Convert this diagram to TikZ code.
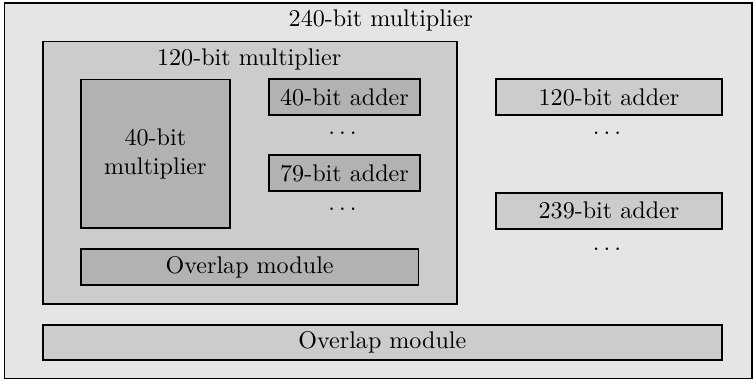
\documentclass[tikz,border=0pt]{standalone}
\begin{document}
\begin{tikzpicture}[x=0.415pt,y=-0.415pt,
  box/.style={draw=black,line width=0.75pt,inner sep=0pt,outer sep=0pt,align=center},
  lvA/.style={box,fill=black!10},
  lvB/.style={box,fill=black!20},
  lvC/.style={box,fill=black!30},
  lbl/.style={inner sep=0pt,anchor=base},
  dotsnode/.style={inner sep=0pt,anchor=base}]
\useasboundingbox (0,0) rectangle (754,381);
% outer 240-bit multiplier
\node[lvA,minimum width=310.2pt,minimum height=155.7pt] (outer) at (378.25,190.9) {};
\node[lbl] (outerlbl) at (380.8,26.7) {240-bit multiplier};
% 120-bit multiplier
\node[lvB,minimum width=171.8pt,minimum height=108.9pt] (inner) at (250,172.75) {};
\node[lbl] (innerlbl) at (249.2,65.3) {120-bit multiplier};
% 40-bit multiplier
\node[lvC,minimum width=62.0pt,minimum height=61.8pt] (m40) at (155.35,153.9) {40-bit\\multiplier};
% adders inside 120-bit
\node[lvC,minimum width=62.4pt,minimum height=15.1pt] (a40) at (344.5,97.15) {40-bit adder};
\node[dotsnode] (d1) at (342.5,135) {$\ldots$};
\node[lvC,minimum width=62.4pt,minimum height=15.1pt] (a79) at (344.5,173) {79-bit adder};
\node[dotsnode] (d2) at (342.5,211) {$\ldots$};
\node[lvC,minimum width=140.2pt,minimum height=14.8pt] (ov1) at (249.6,267.15) {Overlap module};
% outer adders
\node[lvB,minimum width=93.8pt,minimum height=15.1pt] (a120) at (609,97.15) {120-bit adder};
\node[dotsnode] (d3) at (607,135) {$\ldots$};
\node[lvB,minimum width=93.8pt,minimum height=15.1pt] (a239) at (609,210.85) {239-bit adder};
\node[dotsnode] (d4) at (607,250.3) {$\ldots$};
% outer overlap
\node[lvB,minimum width=281.7pt,minimum height=14.65pt] (ov2) at (382.35,342.65) {Overlap module};
\end{tikzpicture}
\end{document}
